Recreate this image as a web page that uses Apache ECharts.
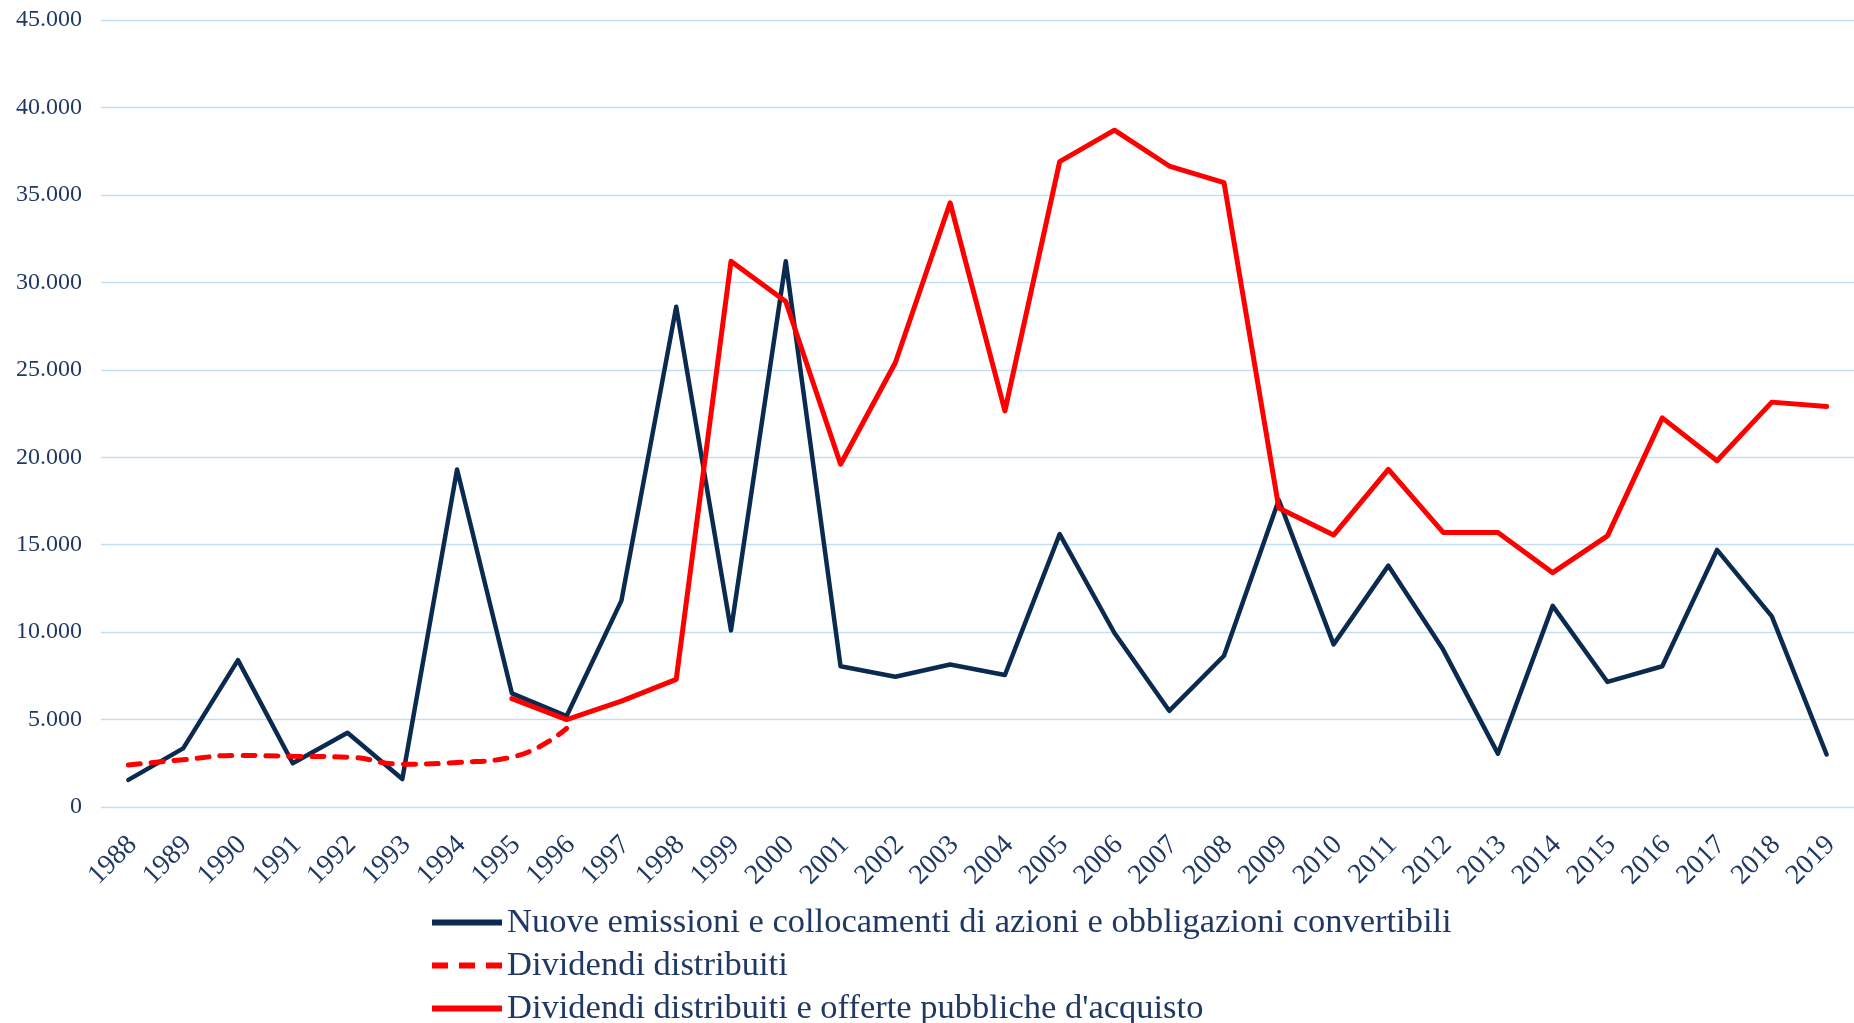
<!DOCTYPE html>
<html>
<head>
<meta charset="utf-8">
<script src="https://cdn.jsdelivr.net/npm/echarts@6/dist/echarts.min.js"></script>
<style>
html,body{margin:0;padding:0;background:#fff;}
#chart{width:1854px;height:1023px;}
</style>
</head>
<body>
<div id="chart"></div>
<script>
var years = ['1988','1989','1990','1991','1992','1993','1994','1995','1996','1997','1998','1999','2000','2001','2002','2003','2004','2005','2006','2007','2008','2009','2010','2011','2012','2013','2014','2015','2016','2017','2018','2019'];

var nuoveEmissioni = [1550,3350,8400,2500,4250,1600,19300,6500,5200,11800,28600,10100,31200,8050,7450,8150,7550,15600,9950,5500,8650,17550,9300,13800,9000,3050,11500,7150,8050,14700,10900,3000];

var dividendi = [2400,2700,2950,2900,2850,2450,2550,2850,4500,null,null,null,null,null,null,null,null,null,null,null,null,null,null,null,null,null,null,null,null,null,null,null];

var dividendiOpa = [null,null,null,null,null,null,null,6200,5000,6050,7300,31200,28900,19600,25400,34550,22650,36900,38700,36650,35700,17100,15550,19300,15700,15700,13400,15500,22250,19800,23150,22900];

var yTicks = [0,5000,10000,15000,20000,25000,30000,35000,40000,45000];

var seriesNames = [
  'Nuove emissioni e collocamenti di azioni e obbligazioni convertibili',
  'Dividendi distribuiti',
  "Dividendi distribuiti e offerte pubbliche d'acquisto"
];

var navy = '#0b2a4f';
var red = '#ff0000';
var txt = '#1f3864';
var font = '"Liberation Serif", "DejaVu Serif", serif';

function fmt(v){
  if (v === 0) return '0';
  return String(v).replace(/\B(?=(\d{3})+(?!\d))/g, '.');
}

var solidIcon = 'path://M0,0h70v6h-70z';
var dashIcon = 'path://M0,0h16v6h-16z M27,0h16v6h-16z M54,0h16v6h-16z';

var chart = echarts.init(document.getElementById('chart'), null, {renderer:'canvas'});
chart.setOption({
  animation:false,
  backgroundColor:'#ffffff',
  grid:{left:101, right:0, top:20, bottom:216, containLabel:false},
  legend:{
    orient:'vertical',
    left:427,
    top:900,
    height:300,
    itemWidth:70,
    itemHeight:6,
    itemGap:8,
    textStyle:{fontFamily:font, fontSize:34.5, color:txt, lineHeight:31},
    data:[
      {name:seriesNames[0], icon:solidIcon, itemStyle:{color:navy}},
      {name:seriesNames[1], icon:dashIcon, itemStyle:{color:red}},
      {name:seriesNames[2], icon:solidIcon, itemStyle:{color:red}}
    ]
  },
  xAxis:{
    type:'category',
    data:years,
    boundaryGap:true,
    axisLine:{show:false},
    axisTick:{show:false},
    axisLabel:{
      interval:0,
      rotate:45,
      margin:18,
      align:'right',
      verticalAlign:'top',
      padding:[0,8,0,0],
      fontFamily:font,
      fontSize:28,
      color:txt
    },
    splitLine:{show:false}
  },
  yAxis:{
    type:'value',
    min:yTicks[0],
    max:yTicks[yTicks.length-1],
    interval:yTicks[1]-yTicks[0],
    axisLine:{show:false},
    axisTick:{show:false},
    axisLabel:{
      margin:19,
      fontFamily:font,
      fontSize:24,
      color:txt,
      formatter:fmt
    },
    splitLine:{lineStyle:{color:'#c2ddf6', width:1.3}}
  },
  series:[
    {
      name:seriesNames[0],
      type:'line',
      data:nuoveEmissioni,
      symbol:'none',
      lineStyle:{color:navy, width:4.5, join:'round', cap:'round'},
      itemStyle:{color:navy}
    },
    {
      name:seriesNames[1],
      type:'line',
      data:dividendi,
      symbol:'none',
      smooth:0.5,
      connectNulls:false,
      lineStyle:{color:red, width:5, type:[12,11], cap:'round'},
      itemStyle:{color:red}
    },
    {
      name:seriesNames[2],
      type:'line',
      data:dividendiOpa,
      symbol:'none',
      connectNulls:false,
      lineStyle:{color:red, width:5, join:'round', cap:'round'},
      itemStyle:{color:red}
    }
  ]
});
</script>
</body>
</html>
